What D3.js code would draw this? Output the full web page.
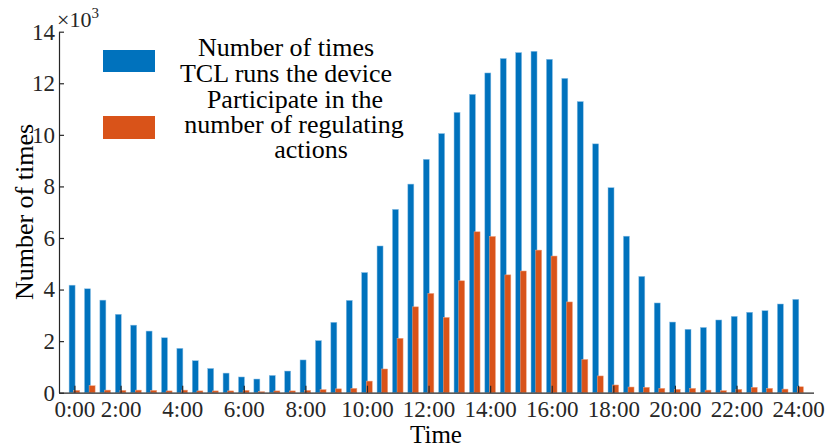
<!DOCTYPE html>
<html>
<head>
<meta charset="utf-8">
<script src="https://cdn.jsdelivr.net/npm/d3@7"></script>
<style>
  body { margin: 0; background: #fff; }
  text { font-family: "Liberation Serif", serif; }
</style>
</head>
<body>
<script>
// half-hour slots 1..48
var tickSlots = [1, 4, 8, 12, 16, 20, 24, 28, 32, 36, 40, 44, 48];
var tickLabels = ["0:00", "2:00", "4:00", "6:00", "8:00", "10:00", "12:00",
                  "14:00", "16:00", "18:00", "20:00", "22:00", "24:00"];

// Number of times TCL runs the device
var runCounts = [4170, 4030, 3590, 3040, 2620, 2390, 2130, 1720, 1240, 940,
                 760, 610, 530, 670, 840, 1270, 2020, 2730, 3580, 4660,
                 5690, 7110, 8090, 9050, 10050, 10870, 11570, 12400, 12960, 13190,
                 13240, 12930, 12190, 11290, 9650, 7950, 6070, 4510, 3480, 2740,
                 2460, 2530, 2820, 2960, 3120, 3180, 3440, 3620];

// Participate in the number of regulating actions
var regCounts = [90, 270, 100, 90, 100, 90, 70, 100, 70, 70,
                 70, 90, 40, 70, 70, 90, 120, 150, 170, 450,
                 920, 2110, 3330, 3850, 2920, 4340, 6240, 6060, 4570, 4720,
                 5530, 5300, 3520, 1290, 650, 300, 220, 210, 170, 130,
                 170, 100, 80, 130, 210, 170, 140, 230];

var yTicks = [0, 2000, 4000, 6000, 8000, 10000, 12000, 14000];

var width = 827, height = 448;
var svg = d3.select("body").append("svg")
    .attr("width", width)
    .attr("height", height);

var x = d3.scaleLinear().domain([0, 49]).range([59, 813.5]);
var y = d3.scaleLinear().domain([0, 14000]).range([392.7, 31.7]);

var barW = 0.39, shift = 0.15;
var blue = "#0072BD", orange = "#D95319";

// bars
svg.append("g").selectAll("rect")
    .data(runCounts)
    .enter().append("rect")
    .attr("x", function (d, i) { return x(i + 1 - shift - barW / 2); })
    .attr("width", x(barW) - x(0))
    .attr("y", function (d) { return y(d); })
    .attr("height", function (d) { return y(0) - y(d); })
    .attr("fill", blue)
    .attr("stroke", "#8cc0e6")
    .attr("stroke-width", 0.5);

svg.append("g").selectAll("rect")
    .data(regCounts)
    .enter().append("rect")
    .attr("x", function (d, i) { return x(i + 1 + shift - barW / 2); })
    .attr("width", x(barW) - x(0))
    .attr("y", function (d) { return y(d); })
    .attr("height", function (d) { return y(0) - y(d); })
    .attr("fill", orange)
    .attr("stroke", "#eea482")
    .attr("stroke-width", 0.5);

// axes
var xAxis = d3.axisBottom(x)
    .tickValues(tickSlots)
    .tickFormat(function (d, i) { return tickLabels[i]; })
    .tickSize(-7)
    .tickSizeOuter(0)
    .tickPadding(8);

var gx = svg.append("g")
    .attr("transform", "translate(0," + y(0) + ")")
    .call(xAxis);

var yAxis = d3.axisLeft(y)
    .tickValues(yTicks)
    .tickFormat(function (d) { return d / 1000; })
    .tickSize(-5)
    .tickSizeOuter(0)
    .tickPadding(4);

var gy = svg.append("g")
    .attr("transform", "translate(" + x(0) + ",0)")
    .call(yAxis);

[gx, gy].forEach(function (g) {
    g.select(".domain").attr("stroke", "#262626").attr("stroke-width", 1.2);
    g.selectAll(".tick line").attr("stroke", "#262626").attr("stroke-width", 1.2);
    g.selectAll(".tick text")
        .attr("fill", "#262626")
        .style("font-family", "Liberation Serif, serif")
        .style("font-size", "23px");
});

// exponent label
var expo = svg.append("text")
    .attr("x", 57)
    .attr("y", 27)
    .attr("fill", "#262626")
    .style("font-size", "22px");
expo.append("tspan").text("×10");
expo.append("tspan").attr("dy", -9).style("font-size", "15px").text("3");

// axis titles
svg.append("text")
    .attr("x", 436)
    .attr("y", 443)
    .attr("text-anchor", "middle")
    .style("font-size", "25px")
    .text("Time");

svg.append("text")
    .attr("transform", "translate(33,212) rotate(-90)")
    .attr("text-anchor", "middle")
    .style("font-size", "26px")
    .text("Number of times");

// legend
svg.append("rect").attr("x", 103).attr("y", 50).attr("width", 52).attr("height", 22).attr("fill", blue);
svg.append("rect").attr("x", 103).attr("y", 116).attr("width", 52).attr("height", 23).attr("fill", orange);

var legendLines = [
    { t: "Number of times", cx: 286, by: 56 },
    { t: "TCL runs the device", cx: 286, by: 82 },
    { t: "Participate in the", cx: 295, by: 108 },
    { t: "number of regulating", cx: 294, by: 133 },
    { t: "actions", cx: 311, by: 158 }
];
svg.append("g").selectAll("text")
    .data(legendLines)
    .enter().append("text")
    .attr("x", function (d) { return d.cx; })
    .attr("y", function (d) { return d.by; })
    .attr("text-anchor", "middle")
    .style("font-size", "26px")
    .text(function (d) { return d.t; });
</script>
</body>
</html>
